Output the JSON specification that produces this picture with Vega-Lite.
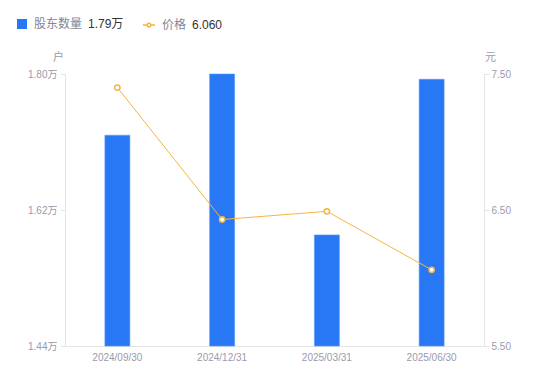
{
  "$schema": "https://vega.github.io/schema/vega-lite/v6.json",
  "width": 419,
  "height": 272,
  "autosize": {"type": "none"},
  "padding": {"left": 65, "top": 74, "right": 66, "bottom": 35},
  "background": "white",
  "data": {"values": [
    {"date": "2024/09/30", "holders": 1.719, "price": 7.40},
    {"date": "2024/12/31", "holders": 1.800, "price": 6.43},
    {"date": "2025/03/31", "holders": 1.587, "price": 6.49},
    {"date": "2025/06/30", "holders": 1.793, "price": 6.06}
  ]},
  "encoding": {
    "x": {"field": "date", "type": "ordinal", "sort": null,
      "scale": {"paddingInner": 0, "paddingOuter": 0},
      "axis": {"title": null, "labelAngle": 0, "ticks": false, "labelPadding": 6, "domainColor": "#e3e3e8"}}
  },
  "layer": [
    {
      "mark": {"type": "bar", "width": 25, "stroke": "#5a98f8", "strokeWidth": 0.6},
      "encoding": {
        "y": {"field": "holders", "type": "quantitative",
          "scale": {"domain": [1.44, 1.80], "zero": false, "nice": false},
          "axis": {"orient": "left", "values": [1.44, 1.62, 1.80], "labelExpr": "format(datum.value, '.2f') + '万'",
            "title": "户", "titleAngle": 0, "titleX": -7, "titleY": -17, "titleAlign": "center", "titleBaseline": "middle",
            "tickSize": 5, "labelPadding": 3, "grid": false}},
        "y2": {"datum": 1.44},
        "fill": {"datum": "股东数量", "type": "nominal", "scale": {"range": ["#2878f6"]},
          "legend": {"orient": "none", "legendX": -49, "legendY": -56, "title": "1.79万", "titleOrient": "right",
            "symbolType": "square", "symbolSize": 100, "symbolStrokeWidth": 0}}
      }
    },
    {
      "layer": [
        {
          "mark": {"type": "line", "strokeWidth": 1},
          "encoding": {
            "stroke": {"datum": "价格", "type": "nominal", "scale": {"range": ["#f7b440"]},
              "legend": {"orient": "none", "legendX": 77, "legendY": -56, "title": "6.060", "titleOrient": "right",
                "symbolType": "M-1,0L-0.42,0M0.42,0L1,0M0.3,0A0.3,0.3,0,1,1,-0.3,0A0.3,0.3,0,1,1,0.3,0",
                "symbolSize": 144, "symbolStrokeWidth": 1.5, "symbolFillColor": "white"}}
          }
        },
        {
          "mark": {"type": "point", "filled": true, "fill": "white", "stroke": "#f7b440", "strokeWidth": 1.5, "size": 28, "opacity": 1},
          "encoding": {}
        }
      ],
      "encoding": {
        "y": {"field": "price", "type": "quantitative",
          "scale": {"domain": [5.5, 7.5], "zero": false, "nice": false},
          "axis": {"orient": "right", "values": [5.5, 6.5, 7.5], "format": ".2f",
            "title": "元", "titleAngle": 0, "titleX": 6, "titleY": -17, "titleAlign": "center", "titleBaseline": "middle",
            "tickSize": 5, "labelPadding": 2, "grid": false}}
      }
    }
  ],
  "resolve": {"scale": {"y": "independent"}},
  "config": {
    "view": {"stroke": null},
    "font": "Liberation Sans, Noto Sans CJK SC, sans-serif",
    "axis": {"labelColor": "#9a9aaa", "labelFontSize": 10, "domainColor": "#e3e3e8", "tickColor": "#e3e3e8",
      "titleColor": "#9a9aaa", "titleFontSize": 11, "titleFontWeight": "normal", "labelFont": "Liberation Sans, Noto Sans CJK SC, sans-serif"},
    "legend": {"labelColor": "#858596", "labelFontSize": 12, "titleColor": "#333333", "titleFontSize": 12, "titleFontWeight": "normal",
      "titlePadding": 6, "labelOffset": 6, "titleBaseline": "middle", "titleAlign": "left", "titleLimit": 200}
  }
}
